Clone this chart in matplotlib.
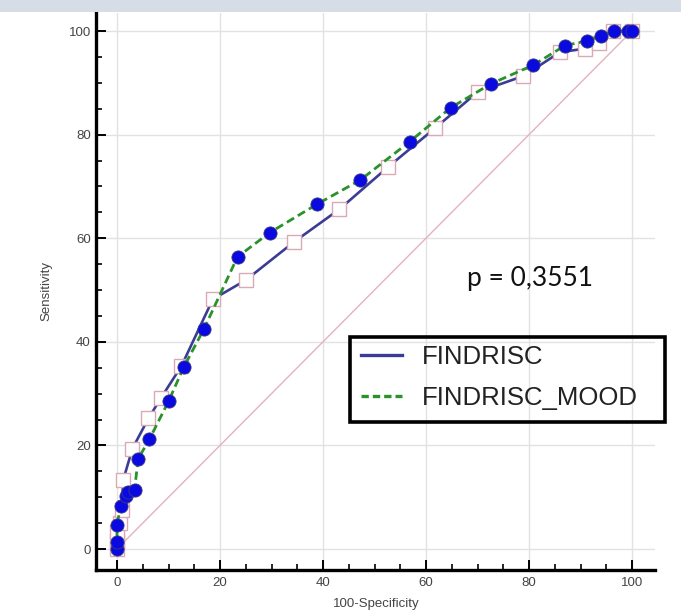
import matplotlib
matplotlib.use("Agg")
import matplotlib.pyplot as plt
from matplotlib.lines import Line2D
from matplotlib.patches import Rectangle
from matplotlib.ticker import MultipleLocator

# ---- data ----
findrisc_x = [0, 0, 0, 0.5, 0.9, 1.2, 3.0, 6.1, 8.5, 12.5, 18.6, 25.0, 34.4, 43.2,
              52.7, 61.7, 70.0, 78.9, 86.0, 90.9, 93.5, 96.4, 100]
findrisc_y = [0, 1.5, 3.3, 5.0, 7.5, 13.3, 19.4, 25.2, 29.1, 35.3, 48.2, 51.9, 59.3, 65.6,
              73.8, 81.2, 88.2, 91.3, 95.9, 96.6, 97.6, 100, 100]

mood_x = [0, 0, 0, 0.7, 1.7, 2.1, 3.4, 4.1, 6.3, 10.0, 13.0, 16.9, 23.4, 29.7, 38.9,
          47.2, 56.8, 64.8, 72.6, 80.8, 87.0, 91.3, 93.9, 96.6, 99.3, 100]
mood_y = [0, 1.4, 4.6, 8.3, 10.2, 11.0, 11.3, 17.4, 21.2, 28.5, 35.2, 42.5, 56.4, 61.1, 66.6,
          71.2, 78.6, 85.2, 89.8, 93.4, 97.2, 98.1, 99.0, 100, 100, 100]

diag = [0, 100]
series_names = ["FINDRISC", "FINDRISC_MOOD"]
p_text = "p = 0,3551"
x_label = "100-Specificity"
y_label = "Sensitivity"

W, H = 681, 613
fig = plt.figure(figsize=(W / 100, H / 100), dpi=100)
fig.patch.set_facecolor("white")

# top band
fig.patches.append(Rectangle((0, 1 - 12 / H), 1, 12 / H, transform=fig.transFigure,
                             facecolor="#d6dde6", edgecolor="none", zorder=0))

# axes geometry (pixels)
x0px, x100px = 117.0, 632.0
y0px, y100px = 549.0, 31.0
sx = (x100px - x0px) / 100
sy = (y0px - y100px) / 100
xmin, xmax = -4.0, 104.5
ymin, ymax = -4.0, 103.5
left_px = x0px + xmin * sx
right_px = x0px + xmax * sx
bottom_px = y0px - ymin * sy
top_px = y0px - ymax * sy
ax = fig.add_axes([left_px / W, 1 - bottom_px / H, (right_px - left_px) / W,
                   (bottom_px - top_px) / H])
ax.set_xlim(xmin, xmax)
ax.set_ylim(ymin, ymax)

font = "Liberation Sans"
for s in ["top", "right"]:
    ax.spines[s].set_visible(False)
for s in ["left", "bottom"]:
    ax.spines[s].set_linewidth(2.4)
    ax.spines[s].set_color("black")

ax.xaxis.set_major_locator(MultipleLocator(20))
ax.yaxis.set_major_locator(MultipleLocator(20))
ax.xaxis.set_minor_locator(MultipleLocator(5))
ax.yaxis.set_minor_locator(MultipleLocator(5))
ax.tick_params(which="major", direction="in", length=7, width=1.4, color="black",
               labelsize=9.5, labelcolor="#444444")
ax.tick_params(which="minor", direction="in", length=4, width=1.2, color="black")
ax.tick_params(axis="y", which="major", pad=4)
ax.tick_params(axis="x", which="major", pad=5)
for lab in ax.get_xticklabels() + ax.get_yticklabels():
    lab.set_family(font)

ax.grid(True, which="major", color="#e2e2e2", linewidth=1.0)
ax.set_axisbelow(True)

ax.set_xlabel(x_label, fontsize=9.5, family=font, color="#444444", labelpad=7)
ax.set_ylabel(y_label, fontsize=9.5, family=font, color="#444444", labelpad=12)

# diagonal
ax.plot(diag, diag, color="#e3b3bb", linewidth=1.0, zorder=2)

# FINDRISC
ax.plot(findrisc_x, findrisc_y, color="#3c3c96", linewidth=1.9, zorder=3,
        marker="s", markersize=9.5, markerfacecolor="white",
        markeredgecolor="#d9a9b6", markeredgewidth=1.0)
# FINDRISC_MOOD
ax.plot(mood_x, mood_y, color="#2a922a", linewidth=2.0, linestyle=(0, (3, 1.6)),
        zorder=4, marker="o", markersize=9.5, markerfacecolor="#0a0ae0",
        markeredgecolor="#3a3a80", markeredgewidth=0.6)

# legend (no frame; frame drawn as rectangle)
handles = [Line2D([], [], color="#3c3c96", linewidth=2.4),
           Line2D([], [], color="#2a922a", linewidth=2.4, linestyle=(0, (2.2, 1.2)))]
leg = fig.legend(handles, series_names, loc="upper left",
                 bbox_to_anchor=(361 / W, 1 - 345 / H), bbox_transform=fig.transFigure,
                 frameon=False, borderpad=0, borderaxespad=0, handlelength=1.6,
                 handletextpad=0.75, labelspacing=0.66,
                 prop={"family": font, "size": 18.5})
for t in leg.get_texts():
    t.set_color("#222222")
fig.patches.append(Rectangle((350 / W, 1 - 422 / H), 315 / W, 85 / H,
                             transform=fig.transFigure, facecolor="none",
                             edgecolor="black", linewidth=2.6, zorder=5))

fig.text(467 / W, 1 - 286 / H, p_text, fontsize=19, family="Lato", color="#111111",
         ha="left", va="baseline")

fig.savefig("out.png", dpi=100)
